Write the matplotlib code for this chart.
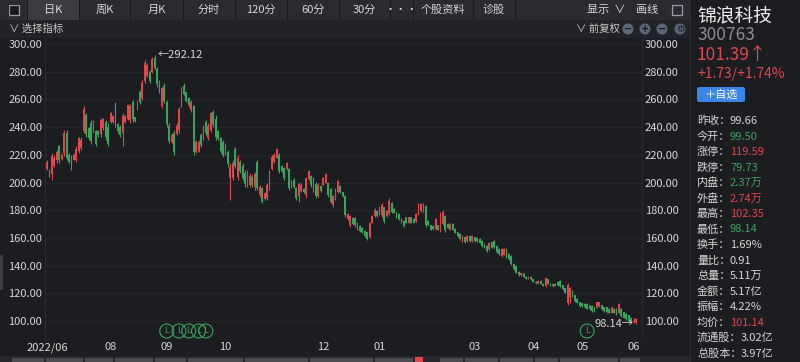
# 锦浪科技 daily K-line screenshot
import matplotlib.pyplot as plt
from matplotlib.patches import Rectangle, FancyBboxPatch, Ellipse

plt.rcParams['font.family'] = ['Noto Sans CJK SC', 'DejaVu Sans']

# daily candles
open_ = [210, 209, 206, 212, 216, 226, 217, 221, 236, 220,
         218, 216.5, 216, 223, 225, 237, 249, 239, 243, 236,
         237, 237, 235, 239, 244, 240, 244, 244, 256, 242,
         240, 236, 244, 246, 245, 258, 247, 253, 265, 261,
         273, 277, 280, 280, 290, 282, 273, 255, 270, 258,
         241, 229, 236, 235, 238, 256, 270, 265, 261, 252,
         255, 222, 223, 234, 232, 244, 232, 238, 251, 246,
         237, 232, 229, 227, 222, 203, 203, 224, 204, 215,
         212, 207, 199, 198, 204, 197, 215, 191, 196, 188,
         189, 196, 210, 214.5, 218, 220, 212, 210.5, 209.5, 209.5,
         196.5, 202, 196, 190, 194, 195.5, 191, 202.5, 205, 203,
         199, 190.5, 197.5, 198.5, 200, 200, 195, 183.5, 188, 193,
         197.5, 193, 190.5, 173.5, 169, 174.5, 174.5, 171, 168.5, 167.5,
         165, 164, 161, 171, 176, 179.5, 177, 176.5, 182, 176,
         178, 185.5, 181, 178.5, 177, 173.8, 172.5, 175, 171, 175,
         173.8, 172, 177, 179.5, 180, 183, 172.5, 169, 168.8, 166.5,
         169, 166, 170, 176, 170, 166, 170, 166.5, 164, 163,
         158, 160.5, 158, 161.5, 158, 160.5, 160, 159.3, 158, 155.5,
         154.5, 152, 156.8, 158, 154.5, 152, 147, 148, 152, 148.5,
         147, 141, 140, 135.5, 133, 134.5, 132, 130.5, 132, 130,
         128.5, 127.5, 129, 127, 125, 130, 127, 125, 127, 128,
         129, 126, 123.6, 113, 117, 122, 118.5, 116, 114, 113,
         112.5, 112.5, 111.5, 111, 110, 109.5, 110.5, 111.5, 110, 110,
         109, 106, 109, 109, 106, 109, 106.5, 105, 104, 102.5,
         99.2, 99.5]
high = [216.5, 210, 221, 220, 223.5, 227, 221, 238, 238, 221,
        220, 221, 226, 233, 233, 255, 250, 240, 245, 245,
        238, 238, 246.4, 246.4, 245, 243, 251, 249, 258, 243,
        241.5, 250, 249, 257, 257, 259.6, 247.6, 259.6, 266.8, 274,
        288.4, 286, 281.2, 290.8, 292.12, 283.6, 274, 269.2, 271.6, 259.6,
        242.7, 235.5, 237.9, 242.7, 254.8, 269.2, 271.6, 265.6, 262, 259.6,
        256, 230.7, 230.7, 235.5, 241.5, 245.1, 242.7, 251.2, 252.4, 248.8,
        237.9, 233.1, 230.7, 228.3, 223.5, 213.8, 216.2, 225.9, 219.9, 216.2,
        213.8, 209, 209, 206.6, 205.4, 207.8, 216.2, 198.2, 197, 193.4,
        199.4, 209, 219.9, 221.1, 224.7, 221.1, 212.6, 211.4, 215, 210.2,
        201.8, 203, 197, 200.6, 199.4, 195.8, 204.2, 209, 205.4, 204.2,
        200.6, 199.4, 198.2, 204.2, 206.6, 200.6, 195.8, 191, 195.8, 201.8,
        198.2, 193.4, 191, 177.8, 176.5, 175.3, 175.3, 171.7, 169.3, 168.1,
        165.7, 164.5, 171.7, 176.5, 181.4, 180.1, 182.5, 185, 182.5, 180.1,
        188.6, 186.2, 181.4, 178.9, 177.8, 174.1, 172.9, 175.3, 175.3, 175.3,
        174.1, 177.8, 185, 185, 185, 183.8, 172.9, 169.3, 169.3, 174.1,
        169.3, 178.9, 180.1, 176.5, 170.5, 170.5, 170.5, 166.9, 164.5, 163.3,
        162.1, 160.9, 162.1, 162.1, 162.1, 160.9, 160.9, 159.7, 158.5, 156.1,
        154.9, 157.3, 157.3, 158.5, 154.9, 152.5, 152.5, 152.5, 152.5, 148.9,
        147.7, 141.6, 140.4, 136, 135, 135, 132.5, 132.5, 132.5, 130.5,
        129, 129.5, 129.5, 127.5, 132, 130.5, 127.5, 127.5, 127.5, 129,
        129.6, 126, 123.6, 127.2, 124.8, 122.4, 118.8, 116.4, 114, 113.3,
        112.8, 112.8, 111.6, 111.6, 110.4, 114, 114, 111.6, 110.4, 110.4,
        109.2, 110.4, 109.2, 109.2, 112.8, 109.2, 106.7, 105.5, 104.3, 103.1,
        102.0, 102.35]
low = [209, 204, 202, 211, 214, 214, 216, 219, 216, 214,
       209, 216, 215, 221, 223.5, 235.5, 233, 231, 228, 235.5,
       226, 233, 233, 238, 231, 226, 243, 243, 240, 235.5,
       233, 226, 243, 245, 243, 244, 244, 252.4, 257, 259.6,
       271.6, 276.4, 271.6, 278.8, 281.2, 269.2, 264.4, 253.6, 257.2, 240.3,
       228.3, 228.3, 219.9, 234.3, 235.5, 254.8, 263.2, 258.4, 254.8, 251.2,
       219.9, 221.1, 222.3, 225.9, 230.7, 234.3, 230.7, 236.7, 240.3, 230.7,
       230.7, 221.1, 218.7, 219.9, 211.4, 187.4, 201.8, 210.2, 201.8, 206.6,
       201.8, 197, 197, 197, 197, 194.6, 194.6, 189.8, 185, 187.4,
       187.4, 194.6, 209, 213.8, 217.5, 206.6, 207.8, 201.8, 209, 194.6,
       195.8, 195.8, 187.4, 186.2, 193.4, 192.2, 188.6, 201.8, 197, 193.4,
       188.6, 189.8, 193.4, 198.2, 199.4, 189.8, 185, 182.5, 187.4, 192.2,
       192.2, 189.8, 175.3, 172.9, 168.1, 169.3, 168.1, 165.7, 164.5, 163.3,
       160.9, 158.5, 159.7, 170.5, 175.3, 175.3, 176.5, 175.3, 170.5, 175.3,
       176.5, 177.8, 177.8, 174.1, 172.9, 170.5, 168.1, 170.5, 170.5, 170.5,
       170.5, 171.7, 176.5, 178.9, 178.9, 168.1, 169.3, 165.7, 165.7, 165.7,
       165.7, 164.5, 169.3, 164.5, 166.9, 165.7, 165.7, 163.3, 160.9, 158.5,
       157.3, 156.1, 157.3, 157.3, 157.3, 157.3, 157.3, 156.1, 153.6, 152.5,
       150.1, 151.3, 152.5, 152.5, 148.9, 147.7, 146.5, 147.7, 145.3, 144,
       140.4, 136.8, 134.4, 132.5, 132.5, 131.5, 130, 130, 129.5, 128,
       127, 127, 126.5, 125, 124.5, 126.5, 125, 124.5, 125, 125.5,
       124.8, 122.4, 120, 111.6, 112.8, 117.6, 114, 112.8, 110.4, 110,
       109.2, 108.4, 108, 106.7, 106.7, 109.2, 110, 108, 106.7, 106,
       105.5, 106, 105.5, 104.3, 105.5, 103.1, 101.9, 100.7, 99.5, 99.2,
       98.9, 98.14]
close = [215, 205, 219, 218, 222, 216, 220, 236, 218, 215,
         211, 220, 224, 232, 231, 253, 235, 232, 230, 244,
         228, 234, 245, 245.5, 233, 228, 250, 248, 242, 237,
         234, 248, 248, 256, 255, 246, 244.5, 259, 258, 272,
         286, 285, 273, 289, 283, 271, 266, 268, 259, 242,
         230, 234, 222, 241, 253, 268, 264, 259, 256, 258,
         222, 229, 229.5, 227, 240, 236, 241, 250, 242, 233,
         232, 223, 220, 221, 213, 211, 214, 212, 218, 208,
         203, 199, 207, 205, 198, 206, 196, 197, 186, 192.5,
         198, 207.5, 218.5, 220, 224, 208, 208.5, 203, 214, 196,
         201, 197, 189, 199, 198.5, 192.8, 203, 208, 198, 194.5,
         190, 198.5, 194, 203.5, 206, 191, 186, 190, 195, 201,
         193, 190.3, 176.5, 177, 175.5, 170, 169, 166.5, 165, 164,
         161.5, 159.5, 171, 176, 180.5, 176, 182, 184, 172, 179.5,
         187, 179, 178.3, 175, 173.5, 171, 168.8, 171, 174.8, 171,
         171, 177, 184, 184.5, 183, 169, 169.5, 166, 166.2, 173.5,
         166, 178, 179, 165.5, 167.3, 170, 166, 163.8, 161.3, 159,
         161.5, 156.8, 161.5, 158, 161.5, 158, 157.8, 156.6, 154.2, 153,
         150.6, 156.5, 153, 153.2, 149.5, 148.2, 152, 152, 146, 144.5,
         141, 137.3, 135, 133, 134.5, 132, 130.5, 132, 130, 128.5,
         127.5, 129, 127, 125.5, 131, 127, 125.5, 127, 125.5, 126,
         125.5, 123, 120.5, 126, 124, 118, 114.5, 113.3, 111, 110.5,
         109.8, 109, 108.5, 107.3, 107.2, 113.5, 113.5, 108.5, 107.2, 106.5,
         106, 110, 106, 105, 112, 103.8, 102.5, 101.3, 100, 100.3,
         99.66, 101.39]

month_idx = [0, 26, 49, 73, 113, 136, 175, 199, 219, 240]
month_lab = ['2022/06', '08', '09', '10', '12', '01', '03', '04', '05', '06']
price_ticks = [100, 120, 140, 160, 180, 200, 220, 240, 260, 280, 300]
l_marks = [49, 54, 58, 62, 65, 221]

tabs = ['日K', '周K', '月K', '分时', '120分', '60分', '30分', '•••', '个股资料', '诊股']
tab_edges = [27, 79, 130, 183, 235, 287, 339, 390, 413, 473, 515]

q_labels = ['昨收', '今开', '涨停', '跌停', '内盘', '外盘', '最高', '最低',
            '换手', '量比', '总量', '金额', '振幅', '均价', '流通股', '总股本']
q_values = ['99.66', '99.50', '119.59', '79.73', '2.37万', '2.74万', '102.35', '98.14',
            '1.69%', '0.91', '5.11万', '5.17亿', '4.22%', '101.14', '3.02亿', '3.97亿']
q_kind = ['n', 'g', 'r', 'g', 'g', 'r', 'r', 'g', 'n', 'n', 'n', 'n', 'n', 'r', 'n', 'n']

RED = '#e0474d'
GREEN = '#3aa35c'
TXT = '#d6d6d6'
BG = '#1c1d21'
W, H = 800, 362

fig = plt.figure(figsize=(8, 3.62), dpi=100, facecolor=BG)


def frect(x, y, w, h, color, **kw):
    fig.add_artist(Rectangle((x / W, 1 - (y + h) / H), w / W, h / H,
                             transform=fig.transFigure, color=color, lw=0, **kw))


def ftext(x, y, s, **kw):
    kw.setdefault('color', TXT)
    kw.setdefault('va', 'center')
    fig.text(x / W, 1 - y / H, s, **kw)


# top toolbar
frect(0, 0, 690, 20, '#2a2b30')
frect(0, 20, 690, 18, '#222327')
frect(tab_edges[0], 0, tab_edges[1] - tab_edges[0], 20, '#3a3c42')
for xe in tab_edges:
    frect(xe, 0, 1, 20, '#18191c')
for i, t in enumerate(tabs):
    ftext((tab_edges[i] + tab_edges[i + 1]) / 2, 10, t, ha='center', fontsize=8)
frect(8, 4, 12, 12, '#18191c')
fig.add_artist(Rectangle((9 / W, 1 - 15 / H), 10 / W, 10 / H, transform=fig.transFigure,
                         fill=False, ec='#9a9ca3', lw=0.9))
fig.add_artist(Rectangle((672 / W, 1 - 15 / H), 10 / W, 10 / H, transform=fig.transFigure,
                         fill=False, ec='#9a9ca3', lw=0.9))
ftext(587, 10, '显示  ∨', fontsize=8)
ftext(636, 10, '画线', fontsize=8)

# second row
ftext(9, 29, '∨ 选择指标', fontsize=7.5, color='#c8c8c8')
ftext(576, 29, '∨ 前复权', fontsize=7.5, color='#c8c8c8')
for xc, sym in zip([628, 645, 662, 680], ['−', '+', '−', '⚙']):
    fig.add_artist(Ellipse((xc / W, 1 - 29 / H), 11 / W, 11 / H, transform=fig.transFigure,
                           color='#5d6678', lw=0))
    ftext(xc, 29, sym, ha='center', fontsize=7, color='#1c1d21', fontweight='bold',
          family='DejaVu Sans')

# right info panel
frect(690, 0, 1, H, '#2c2d32')
ftext(697, 16, '锦浪科技', fontsize=13.5, color='#ededed')
ftext(697, 35, '300763', fontsize=12.5, color='#8b8c90')
ftext(697, 55, '101.39↑', fontsize=12.5, color=RED)
ftext(697, 74, '+1.73/+1.74%', fontsize=10, color=RED)
fig.add_artist(FancyBboxPatch((697 / W, 1 - 102 / H), 48 / W, 15 / H,
                              boxstyle='round,pad=0,rounding_size=0.004',
                              transform=fig.transFigure, color='#3a86e8', lw=0))
ftext(721, 94.5, '＋自选', ha='center', fontsize=8, color='white')
kind_col = {'n': TXT, 'g': GREEN, 'r': RED}
for i, (lab, val, k) in enumerate(zip(q_labels, q_values, q_kind)):
    yy = 121 + i * 15.5
    ftext(697, yy, lab + '：', fontsize=8)
    ftext(697 + len(lab) * 11 + 11, yy, val, fontsize=8, color=kind_col[k])

# bottom strip
frect(0, 356, 690, 6, '#26272b')
for xs, ws in zip([12, 46, 85, 115, 155, 188, 245, 310, 375, 415, 440, 465, 500, 535, 560, 620],
                  [32, 37, 28, 38, 31, 55, 63, 63, 38, 8, 23, 33, 33, 23, 58, 20]):
    frect(xs, 358, ws, 4, '#4a4c52')
frect(415, 357, 8, 5, RED)
frect(0, 255, 3, 35, '#3a3c42')

# chart
ax = fig.add_axes([45 / W, 1 - 338 / H, (642 - 45) / W, (338 - 38) / H], facecolor=BG)
x = list(range(len(close)))
cols = [RED if c >= o else GREEN for o, c in zip(open_, close)]
ax.vlines(x, low, high, colors=cols, lw=0.8)
bottoms = [min(o, c) for o, c in zip(open_, close)]
heights = [max(abs(c - o), 0.5) for o, c in zip(open_, close)]
ax.bar(x, heights, bottom=bottoms, width=0.72, color=cols, lw=0)

for p in price_ticks:
    ax.axhline(p, color='#26272c', lw=0.7, zorder=0)
ax.set_xlim(-0.82, 243.45)
ax.set_ylim(87.73, 304.33)
ax.set_yticks(price_ticks)
ax.set_yticklabels([f'{p:.2f}' for p in price_ticks])
ax.set_xticks(month_idx)
ax.set_xticklabels(month_lab)
ax.tick_params(axis='y', length=0, labelsize=8, labelcolor=TXT, labelleft=True,
               labelright=True, pad=2)
ax.tick_params(axis='x', length=0, labelsize=8, labelcolor=TXT, pad=3)
for s in ['top', 'bottom']:
    ax.spines[s].set_visible(False)
for s in ['left', 'right']:
    ax.spines[s].set_color('#2a2b30')
    ax.spines[s].set_linewidth(0.8)

# max / min annotations
imax = high.index(max(high))
imin = low.index(min(low))
ax.text(imax + 1.2, high[imax], f'←{high[imax]:.2f}', color=TXT, fontsize=8,
        va='center', ha='left')
ax.text(imin - 1.2, low[imin], f'{low[imin]:.2f}→', color=TXT, fontsize=8,
        va='center', ha='right')

for m in l_marks:
    ax.text(m, 92.8, 'L', color=GREEN, fontsize=6, ha='center', va='center',
            family='DejaVu Sans',
            bbox=dict(boxstyle='circle,pad=0.3', fc='none', ec=GREEN, lw=0.8))

plt.savefig('out.png', dpi=100, facecolor=BG)
